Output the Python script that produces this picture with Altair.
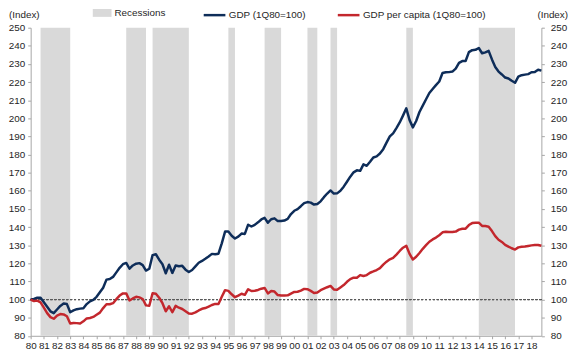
import altair as alt
import pandas as pd

FIRST_YEAR = 1980
S1 = "GDP (1Q80=100)"
S2 = "GDP per capita (1Q80=100)"

# quarterly values, 1Q80 .. 4Q18 (one row per year)
gdp = [
    100.0, 100.3, 101.0, 101.0,   # 1980
    98.5, 96.0, 93.5, 92.5,       # 1981
    94.5, 96.5, 97.8, 97.5,       # 1982
    93.0, 94.0, 94.7, 95.0,       # 1983
    95.2, 97.5, 99.0, 99.8,       # 1984
    101.5, 104.0, 106.5, 111.0,   # 1985
    111.3, 112.5, 115.0, 117.5,   # 1986
    119.5, 120.2, 117.0, 118.8,   # 1987
    119.8, 120.1, 119.0, 116.0,   # 1988
    117.0, 124.5, 125.0, 122.0,   # 1989
    119.5, 114.5, 119.2, 114.7,   # 1990
    118.8, 118.4, 118.6, 116.5,   # 1991
    115.2, 116.3, 118.3, 120.3,   # 1992
    121.3, 122.5, 123.8, 125.2,   # 1993
    125.0, 125.3, 131.0, 137.5,   # 1994
    137.5, 135.2, 133.7, 134.7,   # 1995
    136.4, 136.2, 141.3, 140.3,   # 1996
    141.2, 142.6, 144.2, 145.1,   # 1997
    142.4, 144.3, 144.8, 143.3,   # 1998
    143.3, 143.6, 144.5, 147.2,   # 1999
    149.0, 149.9, 151.5, 153.2,   # 2000
    153.8, 153.5, 152.4, 152.7,   # 2001
    154.2, 156.5, 158.5, 160.2,   # 2002
    158.5, 158.6, 160.0, 162.3,   # 2003
    165.0, 167.8, 170.2, 171.3,   # 2004
    171.0, 174.6, 173.8, 176.0,   # 2005
    178.4, 179.0, 180.6, 183.0,   # 2006
    186.6, 190.0, 191.7, 194.6,   # 2007
    197.7, 201.5, 205.5, 199.0,   # 2008
    195.0, 198.5, 203.5, 207.0,   # 2009
    210.5, 214.0, 216.2, 218.3,   # 2010
    220.3, 225.0, 225.4, 225.5,   # 2011
    225.8, 227.4, 230.6, 231.6,   # 2012
    231.6, 236.5, 237.6, 237.8,   # 2013
    238.8, 235.9, 236.4, 237.2,   # 2014
    232.5, 228.3, 225.8, 224.2,   # 2015
    222.5, 222.0, 220.7, 219.6,   # 2016
    223.0, 223.8, 224.1, 224.4,   # 2017
    225.4, 225.5, 226.8, 226.3,   # 2018
]

gdp_pc = [
    100.0, 99.2, 99.4, 98.5,      # 1980
    95.5, 92.5, 90.3, 89.4,       # 1981
    91.2, 92.0, 91.8, 90.8,       # 1982
    86.8, 87.1, 87.0, 86.8,       # 1983
    88.0, 89.6, 89.8, 90.4,       # 1984
    91.6, 92.8, 95.3, 97.4,       # 1985
    97.4, 98.0, 100.2, 102.2,     # 1986
    103.4, 103.4, 99.5, 100.6,    # 1987
    101.5, 101.2, 100.3, 96.8,    # 1988
    96.6, 103.5, 103.2, 101.0,    # 1989
    98.0, 93.5, 96.3, 93.0,       # 1990
    96.5, 95.5, 94.8, 93.6,       # 1991
    92.3, 92.2, 92.9, 94.0,       # 1992
    94.9, 95.3, 96.1, 97.0,       # 1993
    97.6, 97.6, 101.5, 105.2,     # 1994
    104.8, 102.9, 101.3, 102.2,   # 1995
    103.2, 102.6, 105.7, 104.7,   # 1996
    104.9, 105.3, 106.0, 106.4,   # 1997
    103.4, 104.7, 104.4, 102.5,   # 1998
    102.2, 102.2, 102.3, 103.3,   # 1999
    104.2, 104.3, 104.9, 105.9,   # 2000
    105.7, 104.8, 103.6, 103.9,   # 2001
    105.2, 106.0, 106.8, 107.5,   # 2002
    105.6, 105.4, 106.7, 108.0,   # 2003
    109.8, 111.3, 112.1, 112.0,   # 2004
    113.5, 113.0, 113.5, 114.8,   # 2005
    115.5, 116.3, 117.3, 119.3,   # 2006
    120.9, 122.2, 123.0, 124.8,   # 2007
    126.8, 128.6, 129.7, 125.2,   # 2008
    122.1, 123.6, 125.7, 128.0,   # 2009
    130.0, 131.9, 133.2, 134.2,   # 2010
    135.5, 137.1, 137.4, 137.3,   # 2011
    137.3, 137.5, 138.6, 139.1,   # 2012
    139.1, 141.1, 142.2, 142.4,   # 2013
    142.4, 140.6, 140.6, 140.2,   # 2014
    137.8, 135.0, 133.0, 131.8,   # 2015
    130.2, 129.2, 128.3, 127.6,   # 2016
    128.8, 129.1, 129.3, 129.6,   # 2017
    129.9, 130.1, 130.1, 129.7,   # 2018
]

rec_start = [1980.75, 1987.25, 1989.25, 1995.0, 1997.75, 2001.0, 2002.75, 2008.5, 2014.0]
rec_end = [1983.0, 1988.75, 1992.0, 1995.5, 1999.0, 2001.75, 2003.25, 2009.0, 2016.75]

year_ticks = list(range(1980, 2019))
y_ticks = list(range(80, 251, 10))

n = len(gdp)
t = [FIRST_YEAR + i * 0.25 for i in range(n)]
lines_df = pd.DataFrame({
    "t": t + t,
    "value": gdp + gdp_pc,
    "series": [S1] * n + [S2] * n,
})
rec_df = pd.DataFrame({"start": rec_start, "end": rec_end, "label": ["Recessions"] * len(rec_start)})

TXT = "#262626"
AX = "#a6a6a6"
FS = 10

xscale = alt.Scale(domain=[1980, 2018.75], nice=False, zero=False)
yscale = alt.Scale(domain=[80, 250], nice=False, zero=False)

xaxis = alt.Axis(values=year_ticks, labelExpr="substring(toString(datum.value), 2, 4)",
                 title=None, grid=False, tickSize=3, labelPadding=2, labelFlush=False,
                 labelOverlap=False, labelBound=False, domainColor=AX, tickColor=AX,
                 labelColor=TXT, labelFontSize=FS)

left_axis = alt.Axis(values=y_ticks, orient="left", grid=False, tickSize=3, labelPadding=3,
                     domainColor=AX, tickColor=AX, labelColor=TXT, labelFontSize=FS,
                     labelFlush=False, labelOverlap=False,
                     title="(Index)", titleAngle=0, titleX=-7, titleY=-13.5,
                     titleAlign="center", titleBaseline="middle", titleFontWeight="normal",
                     titleFontSize=FS, titleColor=TXT)

right_axis = alt.Axis(values=y_ticks, orient="right", grid=False, tickSize=3, labelPadding=6,
                      domainColor=AX, tickColor=AX, labelColor=TXT, labelFontSize=FS,
                      labelFlush=False, labelOverlap=False,
                      title="(Index)", titleAngle=0, titleX=11, titleY=-13.5,
                      titleAlign="center", titleBaseline="middle", titleFontWeight="normal",
                      titleFontSize=FS, titleColor=TXT)

rect_path = "M-1,-0.42H1V0.42H-1Z"

rec = alt.Chart(rec_df).mark_rect().encode(
    x=alt.X("start:Q", scale=xscale, axis=xaxis),
    x2="end:Q",
    y=alt.datum(250, scale=yscale, axis=left_axis),
    y2=alt.datum(80),
    fill=alt.Fill("label:N", scale=alt.Scale(domain=["Recessions"], range=["#d9d9d9"]),
                  legend=alt.Legend(title=None, orient="none", legendX=63, legendY=-24.5,
                                    direction="horizontal", symbolType=rect_path,
                                    symbolSize=361, symbolStrokeWidth=0, labelOffset=3,
                                    labelFontSize=FS, labelColor=TXT, padding=0)),
)

ref = alt.Chart(rec_df).mark_rule(color="#595959", strokeWidth=1, strokeDash=[2, 2]).encode(
    y=alt.datum(100, scale=yscale, axis=left_axis),
)

lines = alt.Chart(lines_df).mark_line(strokeWidth=2.5, strokeJoin="round").encode(
    x=alt.X("t:Q", scale=xscale, axis=xaxis),
    y=alt.Y("value:Q", scale=yscale, axis=left_axis),
    stroke=alt.Stroke("series:N",
                      scale=alt.Scale(domain=[S1, S2], range=["#0e2d59", "#c3272d"]),
                      legend=alt.Legend(title=None, orient="none", legendX=174, legendY=-25.5,
                                        direction="horizontal", symbolType="stroke",
                                        symbolSize=484, symbolStrokeWidth=2.5, labelOffset=2,
                                        columnPadding=26, labelFontSize=FS, labelColor=TXT,
                                        padding=0)),
)

right = alt.Chart(lines_df).mark_line(opacity=0).encode(
    x=alt.X("t:Q", scale=xscale, axis=xaxis),
    y=alt.Y("value:Q", scale=yscale, axis=right_axis),
)

chart = alt.layer(alt.layer(rec, ref, lines), right).resolve_scale(y="independent").properties(
    width=518, height=312.5,
    autosize=alt.AutoSizeParams(type="none"),
    padding={"left": 23, "top": 17.5, "right": 27, "bottom": 18},
).configure(font="Liberation Sans").configure_view(stroke=None)

chart.save("out.html", embed_options={"renderer": "svg", "actions": False})
